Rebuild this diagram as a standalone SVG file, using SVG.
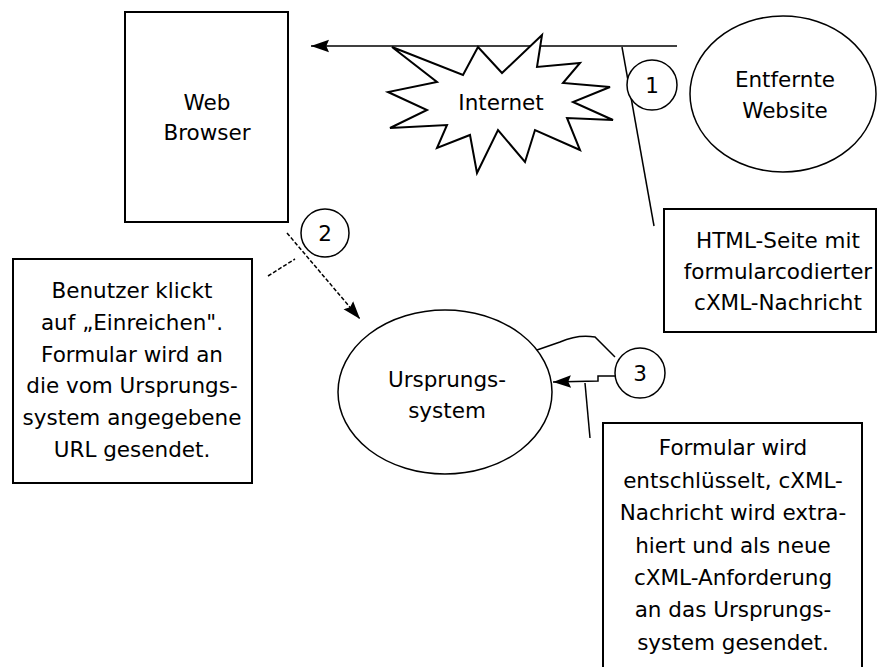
<svg xmlns="http://www.w3.org/2000/svg" width="880" height="667" viewBox="0 0 880 667">
<style>
.shape{fill:#fff;stroke:#000;stroke-width:2}
.circ{fill:#fff;stroke:#000;stroke-width:1.5}
.ln{fill:none;stroke:#000;stroke-width:1.5}
.dash{fill:none;stroke:#000;stroke-width:1.5;stroke-dasharray:4 2}
text{font-family:"DejaVu Sans","Liberation Sans",sans-serif;font-size:21.5px;fill:#000;text-anchor:middle}
</style>
<defs>
<marker id="ah" viewBox="0 0 10 10" refX="10" refY="5" markerWidth="18" markerHeight="18" markerUnits="userSpaceOnUse" orient="auto">
<path d="M0,1.5 L10,5 L0,8.5 L1.5,5 Z" fill="#000"/>
</marker>
</defs>
<g id="connectors">
<line class="ln" x1="677" y1="46" x2="311" y2="46" stroke-width="2" marker-end="url(#ah)"/>
<line class="ln" x1="622" y1="47" x2="654" y2="226"/>
<line class="dash" x1="287" y1="233" x2="360" y2="319" marker-end="url(#ah)"/>
<line class="dash" x1="268" y1="276" x2="295" y2="259"/>
<path class="ln" d="M537,350 L560,342 Q578,334 595,337 L615,357"/>
<path class="ln" d="M615,376 L598,376 L598,381 L553,382" stroke-width="2" marker-end="url(#ah)"/>
<line class="ln" x1="585" y1="383" x2="590" y2="438"/>
</g>
<g id="web-browser">
<rect class="shape" x="125" y="12" width="163" height="210"/>
<text x="207" y="110">Web</text>
<text x="207" y="140">Browser</text>
</g>
<g id="internet">
<polygon class="shape" stroke-width="1.5" points="392,47 463,75 478,47 502,73 542,35 537,67 580,63 563,83 610,87 573,102 613,120 567,118 580,150 535,130 525,162 498,130 477,173 470,135 437,148 447,125 390,128 427,110 388,92 437,82"/>
<text x="501" y="110">Internet</text>
</g>
<g id="entfernte-website">
<ellipse class="circ" cx="783" cy="94" rx="93" ry="78"/>
<text x="785" y="87">Entfernte</text>
<text x="785" y="118">Website</text>
</g>
<g id="step1">
<circle class="circ" cx="652" cy="85" r="25"/>
<text x="652" y="93">1</text>
</g>
<g id="html-box">
<rect class="shape" x="664" y="209" width="212" height="123"/>
<text x="778" y="248">HTML-Seite mit</text>
<text x="778" y="279">formularcodierter</text>
<text x="778" y="310">cXML-Nachricht</text>
</g>
<g id="step2">
<circle class="circ" cx="325" cy="233" r="24"/>
<text x="325" y="241">2</text>
</g>
<g id="user-box">
<rect class="shape" x="13" y="259" width="239" height="224"/>
<text x="132" y="298">Benutzer klickt</text>
<text x="132" y="330">auf „Einreichen".</text>
<text x="132" y="362">Formular wird an</text>
<text x="132" y="393">die vom Ursprungs-</text>
<text x="132" y="425">system angegebene</text>
<text x="132" y="457">URL gesendet.</text>
</g>
<g id="ursprungssystem">
<ellipse class="circ" cx="445" cy="392" rx="107" ry="82"/>
<text x="447" y="387">Ursprungs-</text>
<text x="447" y="418">system</text>
</g>
<g id="step3">
<circle class="circ" cx="640" cy="373" r="25"/>
<text x="640" y="381">3</text>
</g>
<g id="decode-box">
<rect class="shape" x="603" y="423" width="259" height="250"/>
<text x="733" y="455">Formular wird</text>
<text x="733" y="488">entschlüsselt, cXML-</text>
<text x="733" y="520">Nachricht wird extra-</text>
<text x="733" y="553">hiert und als neue</text>
<text x="733" y="585">cXML-Anforderung</text>
<text x="733" y="617">an das Ursprungs-</text>
<text x="733" y="650">system gesendet.</text>
</g>
</svg>
